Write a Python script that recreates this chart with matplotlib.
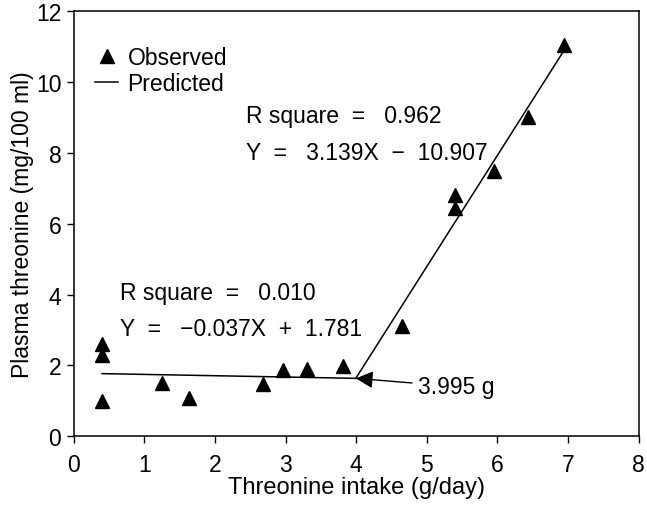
import numpy as np
import matplotlib.pyplot as plt

plt.rcParams['font.family'] = ['Liberation Sans', 'DejaVu Sans']

intake = [0.4, 0.4, 0.4, 1.25, 1.63, 2.68, 2.96, 3.3, 3.82,
          4.65, 5.4, 5.4, 5.95, 6.43, 6.95]
plasma = [2.6, 2.3, 1.0, 1.5, 1.08, 1.48, 1.88, 1.9, 1.98,
          3.1, 6.8, 6.45, 7.5, 9.0, 11.05]

# Broken-line model
breakpoint = 3.995
low_slope, low_icpt = -0.037, 1.781
high_slope, high_icpt = 3.139, -10.907
x_start, x_end = 0.4, 6.95

xticks = list(range(0, 9))
yticks = list(range(0, 13, 2))

fs = 16.5

fig = plt.figure(figsize=(6.47, 5.06), dpi=100)
ax = fig.add_axes([0.114, 0.136, 0.873, 0.84])

ax.plot(intake, plasma, linestyle='none', marker='^', color='black',
        markersize=10, label='Observed')

x_low = np.array([x_start, breakpoint])
x_high = np.array([breakpoint, x_end])
ax.plot(x_low, low_slope * x_low + low_icpt, color='black', lw=1.1,
        label='Predicted')
ax.plot(x_high, high_slope * x_high + high_icpt, color='black', lw=1.1)

# equation labels (extra spaces mimic the wide typesetting of the original)
ax.text(2.44, 9.05, 'R square  =   0.962', fontsize=fs, va='center')
ax.text(2.44, 8.0, 'Y  =   3.139X  −  10.907', fontsize=fs, va='center')
ax.text(0.65, 4.07, 'R square  =   0.010', fontsize=fs, va='center')
ax.text(0.65, 3.05, 'Y  =   −0.037X  +  1.781', fontsize=fs, va='center')

y_break = low_slope * breakpoint + low_icpt
ax.annotate('3.995 g', xy=(breakpoint, y_break), xytext=(4.87, 1.4),
            fontsize=fs, va='center',
            arrowprops=dict(arrowstyle='-|>', color='black', lw=1.0,
                            mutation_scale=26, shrinkA=2, shrinkB=0))

ax.set_xlim(0, 8)
ax.set_ylim(0, 12)
ax.set_xticks(xticks)
ax.set_yticks(yticks)
ax.tick_params(labelsize=fs, length=5, width=1, direction='out', pad=4)
ax.tick_params(axis='x', pad=7)
ax.set_xlabel('Threonine intake (g/day)', fontsize=17, labelpad=0)
ax.set_ylabel('Plasma threonine (mg/100 ml)', fontsize=16.5, labelpad=1)
for s in ax.spines.values():
    s.set_linewidth(1.1)

ax.legend(loc='upper left', frameon=False, fontsize=fs, handlelength=1.0,
          handletextpad=0.4, labelspacing=0.1, borderaxespad=0.3,
          bbox_to_anchor=(0.01, 0.955))

fig.savefig('out.png', dpi=100)
